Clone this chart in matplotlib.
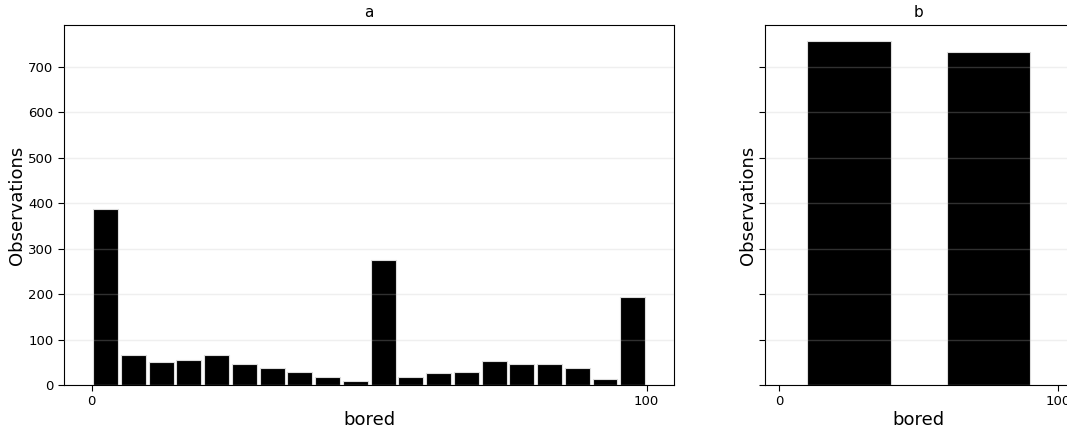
import numpy as np
import matplotlib
matplotlib.use("Agg")
import matplotlib.pyplot as plt

# histogram counts
edges_a = np.arange(0, 101, 5)
counts_a = [387, 65, 51, 55, 65, 45, 37, 29, 17, 9,
            275, 18, 26, 28, 52, 45, 45, 37, 14, 193]
edges_b = [0, 50, 100]
counts_b = [756, 732]

xlabel = "bored"
ylabel = "Observations"
titles = ["a", "b"]
yticks = [0, 100, 200, 300, 400, 500, 600, 700]


def hist_panel(ax, edges, counts, rwidth, title, show_ylabels):
    edges = np.asarray(edges, dtype=float)
    widths = np.diff(edges)
    centers = edges[:-1] + widths / 2
    ax.bar(centers, counts, width=widths * rwidth, color="black",
           edgecolor="#dddddd", linewidth=0.8, zorder=2)
    ax.set_xlim(-5, 105)
    ax.set_ylim(0, 792)
    ax.set_xticks([0, 100])
    ax.set_yticks(yticks)
    ax.grid(axis="y", color="0.76", alpha=0.25, linewidth=1, zorder=3)
    ax.set_axisbelow(False)
    ax.tick_params(labelsize=9.5, length=4)
    if not show_ylabels:
        ax.tick_params(axis="y", labelleft=False)
    ax.set_title(title, fontsize=11)
    ax.set_xlabel(xlabel, fontsize=13, labelpad=2)
    ax.set_ylabel(ylabel, fontsize=13, labelpad=2)


fig = plt.figure(figsize=(10.67, 4.33), dpi=100)
ax1 = fig.add_axes([0.060, 0.111, 0.572, 0.831])
ax2 = fig.add_axes([0.717, 0.111, 0.288, 0.831])

hist_panel(ax1, edges_a, counts_a, 0.9, titles[0], True)
hist_panel(ax2, edges_b, counts_b, 0.6, titles[1], False)

fig.savefig("out.png", dpi=100)
